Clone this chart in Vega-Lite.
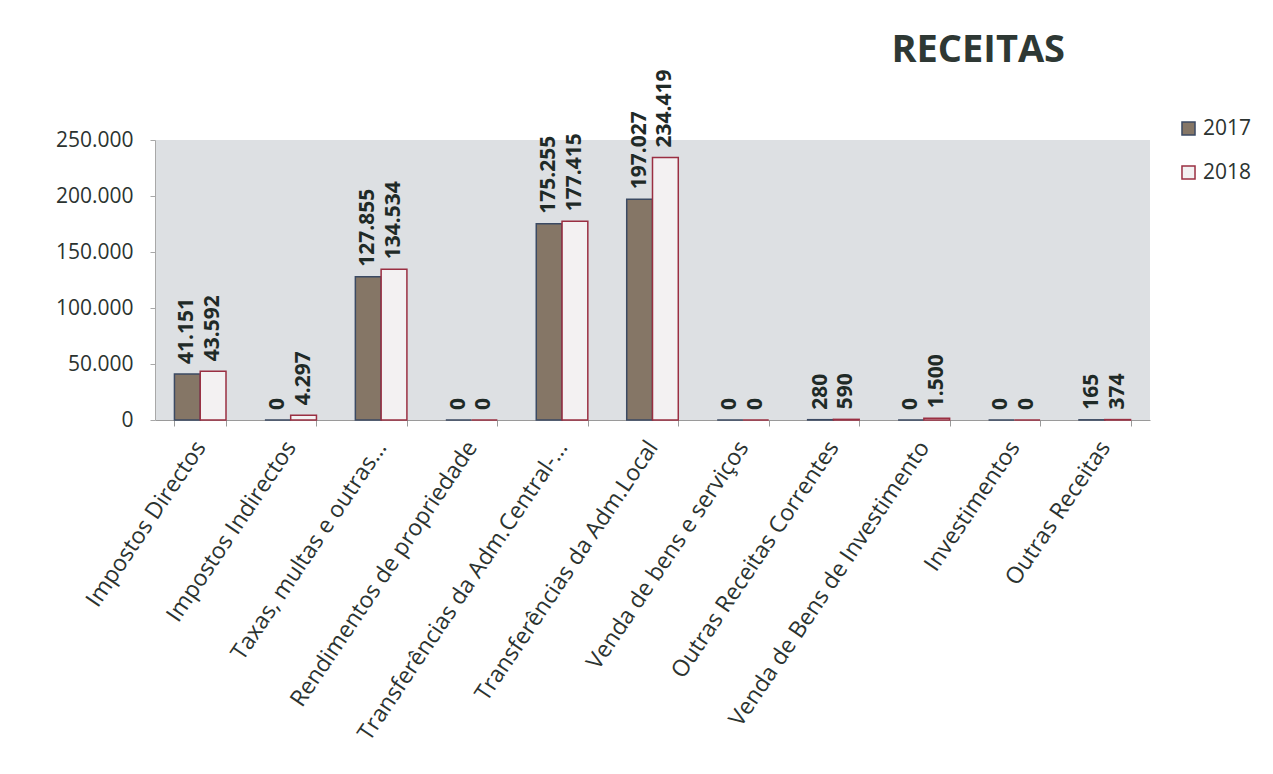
{
  "$schema": "https://vega.github.io/schema/vega-lite/v6.json",
  "width": 995,
  "height": 280,
  "autosize": {"type": "none"},
  "padding": {"left": 155, "top": 140, "right": 123, "bottom": 354},
  "background": "white",
  "config": {
    "locale": {"number": {"decimal": ",", "thousands": ".", "grouping": [3], "currency": ["", " €"]}},
    "view": {"fill": "#dde0e3", "stroke": null},
    "font": "Open Sans"
  },
  "title": {
    "text": "RECEITAS",
    "anchor": "start",
    "dx": 836,
    "offset": -1,
    "fontSize": 38,
    "fontWeight": "bold",
    "font": "Open Sans",
    "color": "#2e3834"
  },
  "data": {
    "values": [
      {"cat": "Impostos Directos", "year": "2017", "value": 41151},
      {"cat": "Impostos Directos", "year": "2018", "value": 43592},
      {"cat": "Impostos Indirectos", "year": "2017", "value": 0},
      {"cat": "Impostos Indirectos", "year": "2018", "value": 4297},
      {"cat": "Taxas, multas e outras...", "year": "2017", "value": 127855},
      {"cat": "Taxas, multas e outras...", "year": "2018", "value": 134534},
      {"cat": "Rendimentos de propriedade", "year": "2017", "value": 0},
      {"cat": "Rendimentos de propriedade", "year": "2018", "value": 0},
      {"cat": "Transferências da Adm.Central-...", "year": "2017", "value": 175255},
      {"cat": "Transferências da Adm.Central-...", "year": "2018", "value": 177415},
      {"cat": "Transferências da Adm.Local", "year": "2017", "value": 197027},
      {"cat": "Transferências da Adm.Local", "year": "2018", "value": 234419},
      {"cat": "Venda de bens e serviços", "year": "2017", "value": 0},
      {"cat": "Venda de bens e serviços", "year": "2018", "value": 0},
      {"cat": "Outras Receitas Correntes", "year": "2017", "value": 280},
      {"cat": "Outras Receitas Correntes", "year": "2018", "value": 590},
      {"cat": "Venda de Bens de Investimento", "year": "2017", "value": 0},
      {"cat": "Venda de Bens de Investimento", "year": "2018", "value": 1500},
      {"cat": "Investimentos", "year": "2017", "value": 0},
      {"cat": "Investimentos", "year": "2018", "value": 0},
      {"cat": "Outras Receitas", "year": "2017", "value": 165},
      {"cat": "Outras Receitas", "year": "2018", "value": 374}
    ]
  },
  "encoding": {
    "x": {
      "field": "cat",
      "type": "nominal",
      "sort": null,
      "scale": {"paddingInner": 0.43, "paddingOuter": 0.215},
      "axis": {
        "title": null,
        "labelAngle": -56,
        "labelAlign": "right",
        "labelBaseline": "middle",
        "labelFontSize": 23,
        "labelColor": "#2b3330",
        "labelPadding": 17,
        "labelLimit": 400,
        "domainColor": "#9a9a9a",
        "tickColor": "#9a9a9a",
        "tickSize": 6,
        "tickBand": "extent"
      }
    },
    "xOffset": {"field": "year", "type": "nominal", "scale": {"paddingInner": 0}},
    "y": {
      "field": "value",
      "type": "quantitative",
      "scale": {"domain": [0, 250000], "nice": false},
      "axis": {
        "title": null,
        "values": [0, 50000, 100000, 150000, 200000, 250000],
        "format": ",.0f",
        "grid": false,
        "labelFontSize": 21,
        "labelColor": "#2b3330",
        "labelPadding": 17,
        "domainColor": "#a8a8a8",
        "tickColor": "#a8a8a8",
        "tickSize": 5
      }
    }
  },
  "layer": [
    {
      "mark": {"type": "bar", "strokeWidth": 1.5},
      "encoding": {
        "fill": {
          "field": "year",
          "type": "nominal",
          "scale": {"domain": ["2017", "2018"], "range": ["#857666", "#f3f1f2"]},
          "legend": {
            "title": null,
            "orient": "none",
            "legendX": 1023,
            "legendY": -22,
            "symbolType": "square",
            "symbolSize": 170,
            "symbolStrokeWidth": 1.5,
            "labelFontSize": 21,
            "labelColor": "#2b3330",
            "labelOffset": 4,
            "rowPadding": 22
          }
        },
        "stroke": {
          "field": "year",
          "type": "nominal",
          "scale": {"domain": ["2017", "2018"], "range": ["#3b4a63", "#9a2f42"]}
        }
      }
    },
    {
      "mark": {
        "type": "text",
        "angle": -90,
        "align": "left",
        "baseline": "middle",
        "dx": 10,
        "fontSize": 21,
        "fontWeight": "bold",
        "color": "#1f2a27"
      },
      "encoding": {
        "text": {"field": "value", "type": "quantitative", "format": ",.0f"}
      }
    }
  ]
}
